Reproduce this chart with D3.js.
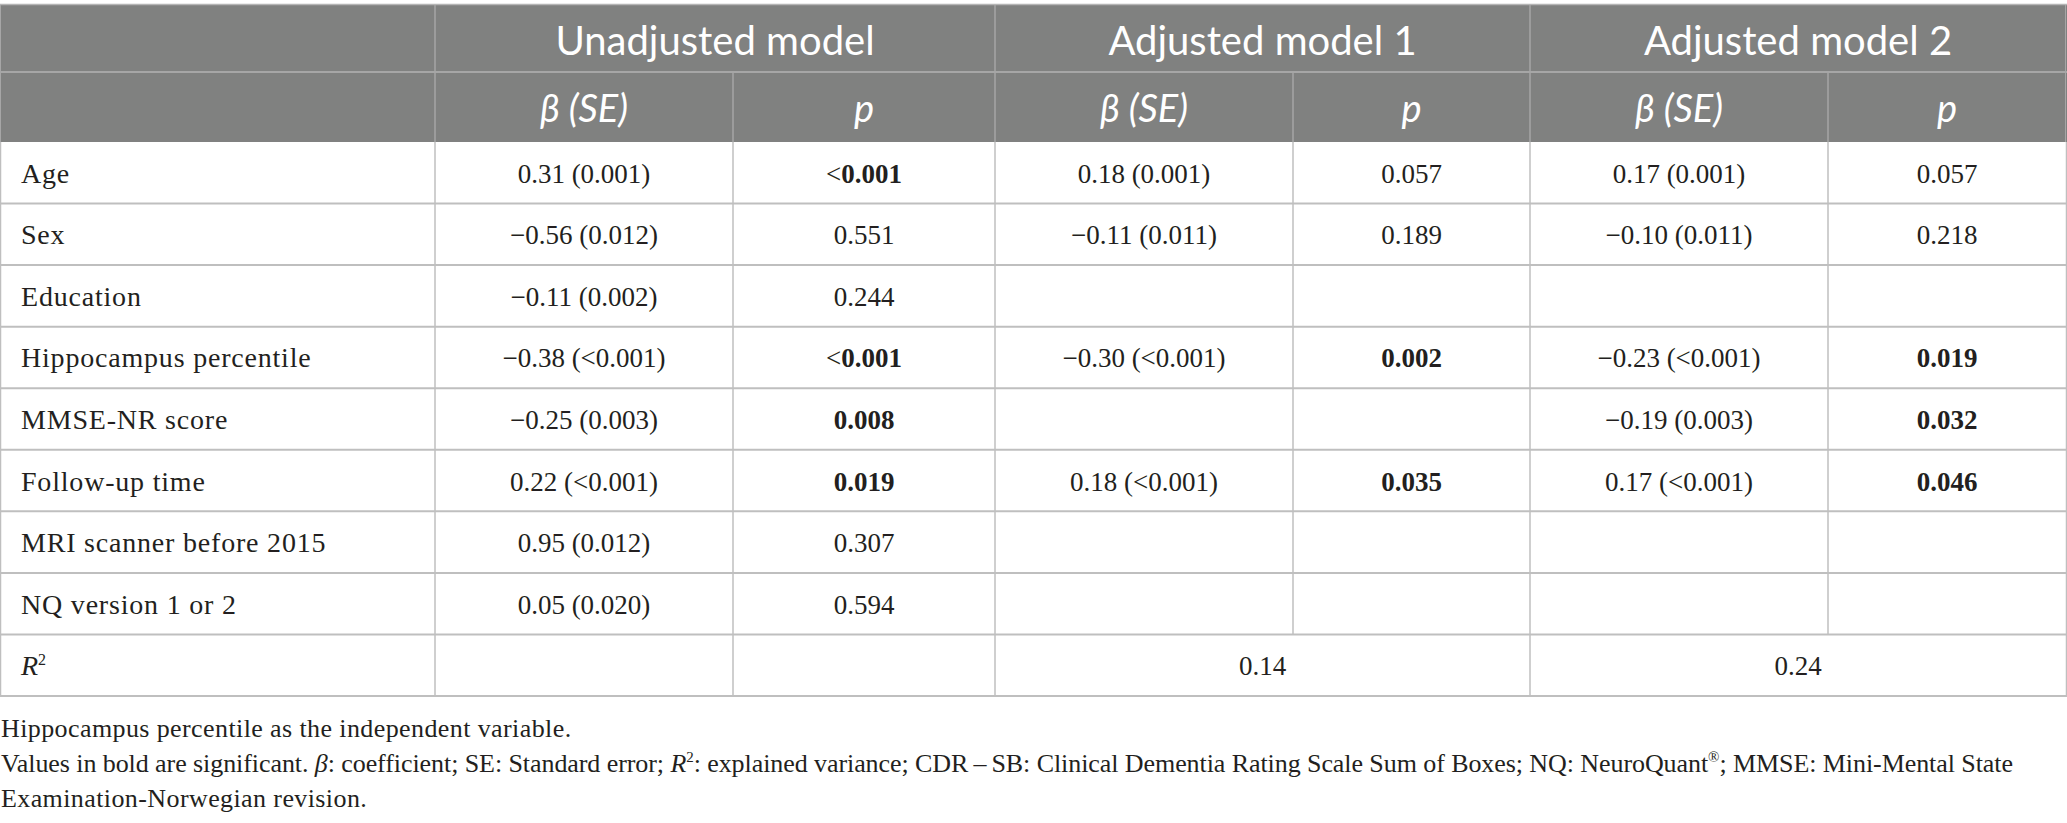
<!DOCTYPE html>
<html>
<head>
    <meta charset="utf-8">
    <title>Regression table</title>
    <style type="text/css">
        body{ margin:0; background:#fff; }
        svg text{ font-kerning:normal; }
    </style>
</head>
<body>
<div id="chart"></div>

<script src="https://cdn.jsdelivr.net/npm/d3@7"></script>
<script type="text/javascript">

// ---- data ----
var modelNames = ["Unadjusted model", "Adjusted model 1", "Adjusted model 2"];
var subHeads   = ["\u03b2 (SE)", "p"];

var rowLabels = ["Age", "Sex", "Education", "Hippocampus percentile", "MMSE-NR score",
                 "Follow-up time", "MRI scanner before 2015", "NQ version 1 or 2"];

var unadjBeta = ["0.31 (0.001)", "\u22120.56 (0.012)", "\u22120.11 (0.002)", "\u22120.38 (<0.001)",
                 "\u22120.25 (0.003)", "0.22 (<0.001)", "0.95 (0.012)", "0.05 (0.020)"];
var unadjP    = ["<0.001", "0.551", "0.244", "<0.001", "0.008", "0.019", "0.307", "0.594"];
var unadjSig  = [true, false, false, true, true, true, false, false];

var adj1Beta  = ["0.18 (0.001)", "\u22120.11 (0.011)", "", "\u22120.30 (<0.001)", "", "0.18 (<0.001)", "", ""];
var adj1P     = ["0.057", "0.189", "", "0.002", "", "0.035", "", ""];
var adj1Sig   = [false, false, false, true, false, true, false, false];

var adj2Beta  = ["0.17 (0.001)", "\u22120.10 (0.011)", "", "\u22120.23 (<0.001)", "\u22120.19 (0.003)", "0.17 (<0.001)", "", ""];
var adj2P     = ["0.057", "0.218", "", "0.019", "0.032", "0.046", "", ""];
var adj2Sig   = [false, false, false, true, true, true, false, false];

var rSquared  = ["", "0.14", "0.24"];

// *x* = italic, ^x^ = superscript
var footnotes = [
    "Hippocampus percentile as the independent variable.",
    "Values in bold are significant. *\u03b2*: coefficient; SE: Standard error; *R*^2^: explained variance; CDR\u2009\u2013\u2009SB: Clinical Dementia Rating Scale Sum of Boxes; NQ: NeuroQuant^\u00ae^; MMSE: Mini-Mental State",
    "Examination-Norwegian revision."
];

// ---- layout ----
var width  = 2067,
    height = 823;

var colEdges = [0, 435, 733, 995, 1293, 1530, 1828, 2066];
var topY = 5, head1Y = 72, head2Y = 142, bottomY = 696;

var headFont = "Lato, 'Open Sans', sans-serif",
    bodyFont = "'Liberation Serif', 'DejaVu Serif', serif",
    ink = "#231f20",
    headBg = "#808180",
    gridCol = "#bfbfbf",
    headGrid = "#a6a6a6",
    bodySize = 27;

var svg = d3.select('#chart').append('svg')
    .attr('width', width)
    .attr('height', height);

var bodyRows = rowLabels.concat(["R2"]);
var y = d3.scaleBand()
    .domain(bodyRows)
    .range([head2Y, bottomY]);

var x = d3.scaleOrdinal()
    .domain(d3.range(colEdges.length))
    .range(colEdges);

function cx(i){ return (x(i) + x(i + 1)) / 2; }

// header background
svg.append('rect')
    .attr('x', 0).attr('y', topY)
    .attr('width', width).attr('height', head2Y - topY)
    .attr('fill', headBg);

// top rule
svg.append('line')
    .attr('x1', 0).attr('x2', width)
    .attr('y1', topY - 0.5).attr('y2', topY - 0.5)
    .attr('stroke', '#b5b5b5').attr('stroke-width', 1.5);

// header lines
svg.append('line')
    .attr('x1', 0).attr('x2', width)
    .attr('y1', head1Y).attr('y2', head1Y)
    .attr('stroke', headGrid).attr('stroke-width', 2);

[1, 3, 5].forEach(function(i){
    svg.append('line')
        .attr('x1', x(i)).attr('x2', x(i))
        .attr('y1', topY).attr('y2', head2Y)
        .attr('stroke', headGrid).attr('stroke-width', 1.5);
});
[2, 4, 6].forEach(function(i){
    svg.append('line')
        .attr('x1', x(i)).attr('x2', x(i))
        .attr('y1', head1Y).attr('y2', head2Y)
        .attr('stroke', headGrid).attr('stroke-width', 1.5);
});
[0, 7].forEach(function(i){
    svg.append('line')
        .attr('x1', x(i) + (i ? -0.5 : 0.5)).attr('x2', x(i) + (i ? -0.5 : 0.5))
        .attr('y1', topY).attr('y2', head2Y)
        .attr('stroke', headGrid).attr('stroke-width', 1);
});

// header text
svg.selectAll('.model')
    .data(modelNames)
    .enter().append('text')
    .attr('class', 'model')
    .attr('x', function(d, i){ return (x(1 + i * 2) + x(3 + i * 2)) / 2; })
    .attr('y', 55)
    .attr('text-anchor', 'middle')
    .attr('fill', '#fff')
    .style('font-family', headFont)
    .style('font-size', '40px')
    .text(function(d){ return d; });

var subData = [];
modelNames.forEach(function(m, i){
    subHeads.forEach(function(s, j){ subData.push({col: 1 + i * 2 + j, text: s}); });
});
svg.selectAll('.sub')
    .data(subData)
    .enter().append('text')
    .attr('class', 'sub')
    .attr('x', function(d){ return cx(d.col); })
    .attr('y', 122)
    .attr('text-anchor', 'middle')
    .attr('fill', '#fff')
    .style('font-family', headFont)
    .style('font-style', 'italic')
    .style('font-size', '38px')
    .text(function(d){ return d.text; });

// body grid: horizontal rules
svg.selectAll('.hrule')
    .data(bodyRows)
    .enter().append('line')
    .attr('class', 'hrule')
    .attr('x1', 0).attr('x2', width)
    .attr('y1', function(d){ return y(d) + y.bandwidth(); })
    .attr('y2', function(d){ return y(d) + y.bandwidth(); })
    .attr('stroke', gridCol).attr('stroke-width', 2);

// body grid: vertical rules (R2 row merges each adjusted model's two cells)
d3.range(colEdges.length).forEach(function(i){
    var merged = (i === 4 || i === 6);
    var xx = i === 0 ? 0.5 : (i === 7 ? width - 0.5 : x(i));
    svg.append('line')
        .attr('x1', xx).attr('x2', xx)
        .attr('y1', head2Y)
        .attr('y2', merged ? y("R2") : bottomY)
        .attr('stroke', gridCol).attr('stroke-width', 1.5);
});

// body text
var cells = [];
rowLabels.forEach(function(lab, r){
    cells.push({row: lab, col: 0, text: lab});
    cells.push({row: lab, col: 1, text: unadjBeta[r]});
    cells.push({row: lab, col: 2, text: unadjP[r], bold: unadjSig[r]});
    cells.push({row: lab, col: 3, text: adj1Beta[r]});
    cells.push({row: lab, col: 4, text: adj1P[r], bold: adj1Sig[r]});
    cells.push({row: lab, col: 5, text: adj2Beta[r]});
    cells.push({row: lab, col: 6, text: adj2P[r], bold: adj2Sig[r]});
});

var cellText = svg.selectAll('.cell')
    .data(cells.filter(function(d){ return d.text !== ""; }))
    .enter().append('text')
    .attr('class', 'cell')
    .attr('x', function(d){ return d.col === 0 ? 21 : cx(d.col); })
    .attr('y', function(d){ return y(d.row) + y.bandwidth() / 2 + 10; })
    .attr('text-anchor', function(d){ return d.col === 0 ? 'start' : 'middle'; })
    .attr('fill', ink)
    .style('font-family', bodyFont)
    .style('font-size', function(d){ return d.col === 0 ? '28px' : bodySize + 'px'; })
    .style('letter-spacing', function(d){ return d.col === 0 ? '0.8px' : null; });

cellText.each(function(d){
    var t = d3.select(this);
    if(d.bold && d.text.charAt(0) === '<'){
        t.append('tspan').text('<');
        t.append('tspan').style('font-weight', 'bold').text(d.text.slice(1));
    } else {
        t.style('font-weight', d.bold ? 'bold' : null).text(d.text);
    }
});

// R2 row
var r2y = y("R2") + y.bandwidth() / 2 + 10;
var r2lab = svg.append('text')
    .attr('x', 21).attr('y', r2y)
    .attr('fill', ink)
    .style('font-family', bodyFont)
    .style('font-size', '28px');
r2lab.append('tspan').style('font-style', 'italic').text('R');
r2lab.append('tspan').attr('dy', -10).style('font-size', '16px').text('2');

svg.selectAll('.r2')
    .data(rSquared)
    .enter().append('text')
    .attr('class', 'r2')
    .attr('x', function(d, i){ return (x(1 + i * 2) + x(3 + i * 2)) / 2; })
    .attr('y', r2y)
    .attr('text-anchor', 'middle')
    .attr('fill', ink)
    .style('font-family', bodyFont)
    .style('font-size', bodySize + 'px')
    .text(function(d){ return d; });

// footnotes
svg.selectAll('.foot')
    .data(footnotes)
    .enter().append('text')
    .attr('class', 'foot')
    .attr('x', 1)
    .attr('y', function(d, i){ return 737 + i * 35; })
    .attr('fill', ink)
    .style('font-family', bodyFont)
    .style('font-size', '26px')
    .each(function(d, i){
        var t = d3.select(this), shift = 0;
        if(i === 1) t.attr('textLength', 2012).attr('lengthAdjust', 'spacing');
        else t.style('letter-spacing', '0.4px');
        d.split(/(\*[^*]+\*|\^[^^]+\^)/).forEach(function(part){
            if(part === "") return;
            var sp;
            if(part.charAt(0) === '^'){
                sp = t.append('tspan').attr('dy', -10 - shift).style('font-size', '15px').text(part.slice(1, -1));
                shift = -10;
                return;
            }
            sp = t.append('tspan');
            if(shift){ sp.attr('dy', -shift); shift = 0; }
            if(part.charAt(0) === '*'){
                sp.style('font-style', 'italic').text(part.slice(1, -1));
            } else {
                sp.text(part);
            }
        });
    });

</script>
</body>
</html>
